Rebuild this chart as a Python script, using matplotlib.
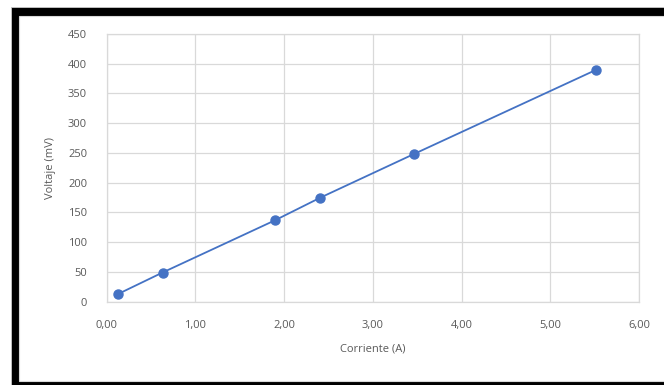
import matplotlib
matplotlib.use("Agg")
import matplotlib.pyplot as plt
from matplotlib.patches import Rectangle
from matplotlib.ticker import FuncFormatter

# Measured current (A) and voltage (mV)
corriente = [0.13, 0.63, 1.90, 2.41, 3.46, 5.52]
voltaje = [13, 49, 137, 175, 248, 390]

x_ticks = [0, 1, 2, 3, 4, 5, 6]
y_ticks = [0, 50, 100, 150, 200, 250, 300, 350, 400, 450]

W, H = 664, 385
plt.rcParams["font.family"] = ["Open Sans", "DejaVu Sans"]

fig = plt.figure(figsize=(W / 100, H / 100), dpi=100)
fig.patch.set_facecolor("white")

# Black frame around the chart
fig.add_artist(Rectangle((11 / W, -0.1), 2, 1.1 - 7.5 / H, transform=fig.transFigure,
                         facecolor="black", edgecolor="#c8c8c8", linewidth=0.6, zorder=0))
fig.add_artist(Rectangle((19 / W, 4.5 / H), 2, 1 - 16.5 / H - 4.5 / H,
                         transform=fig.transFigure, facecolor="white",
                         edgecolor="#d9d9d9", linewidth=0.8, zorder=0))

left, right, top, bottom = 106.6, 639.0, 34.0, 301.7
ax = fig.add_axes([left / W, 1 - bottom / H, (right - left) / W, (bottom - top) / H])
ax.set_facecolor("none")

ax.plot(corriente, voltaje, color="#4472C4", linewidth=1.3, marker="o",
        markersize=6.5, markerfacecolor="#4472C4", markeredgecolor="#4472C4",
        zorder=3, clip_on=False)

ax.set_xlim(0, 6)
ax.set_ylim(0, 450)
ax.set_xticks(x_ticks)
ax.set_yticks(y_ticks)
ax.xaxis.set_major_formatter(FuncFormatter(lambda v, p: f"{v:.2f}".replace(".", ",")))
ax.yaxis.set_major_formatter(FuncFormatter(lambda v, p: f"{int(v)}"))

ax.grid(True, color="#d9d9d9", linewidth=0.9)
ax.set_axisbelow(True)
for s in ax.spines.values():
    s.set_color("#d9d9d9")
    s.set_linewidth(0.9)

ax.tick_params(axis="both", length=0, labelsize=8, labelcolor="#595959")
ax.tick_params(axis="x", pad=13)
ax.tick_params(axis="y", pad=14)

ax.set_xlabel("Corriente (A)", fontsize=8, color="#595959")
ax.set_ylabel("Voltaje (mV)", fontsize=8, color="#595959")
ax.xaxis.set_label_coords(0.5, (bottom - 349) / (bottom - top))
ax.xaxis.label.set_va("center")
ax.yaxis.set_label_coords((50 - left) / (right - left), 0.5)
ax.yaxis.label.set_va("center")

fig.savefig("out.png", dpi=100)
